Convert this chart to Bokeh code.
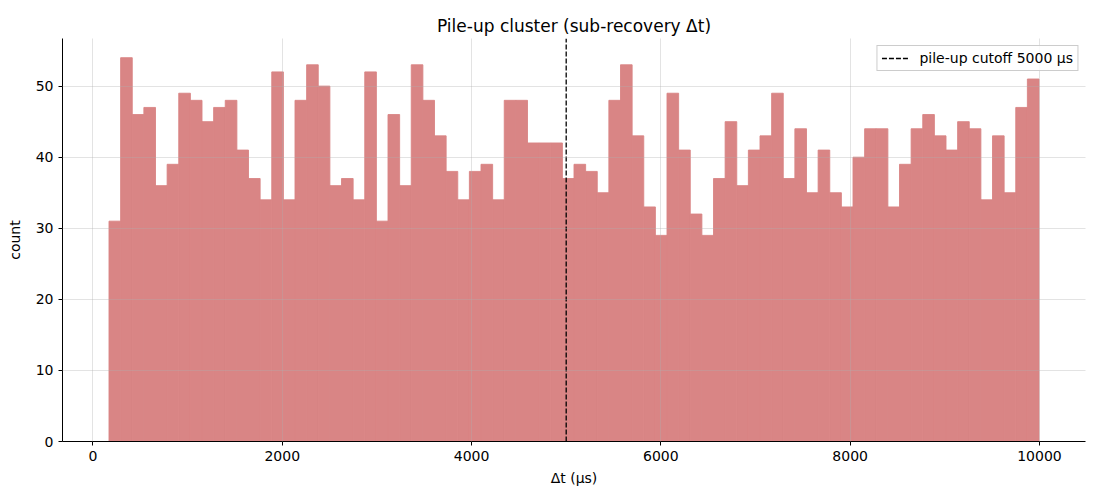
import numpy as np
from bokeh.plotting import figure
from bokeh.models import Range1d, FixedTicker, Legend, LegendItem, ColumnDataSource
from bokeh.embed import file_html
from bokeh.resources import INLINE

# Histogram data
counts = [31, 54, 46, 47, 36, 39, 49, 48, 45, 47,
          48, 41, 37, 34, 52, 34, 48, 53, 50, 36,
          37, 34, 52, 31, 46, 36, 53, 48, 43, 38,
          34, 38, 39, 34, 48, 48, 42, 42, 42, 37,
          39, 38, 35, 48, 53, 43, 33, 29, 49, 41,
          32, 29, 37, 45, 36, 41, 43, 49, 37, 44,
          35, 41, 35, 33, 40, 44, 44, 33, 39, 44,
          46, 43, 41, 45, 44, 34, 43, 35, 47, 51]
dt_min = 170.0
dt_max = 9995.0
cutoff = 5000
x_ticks = [0, 2000, 4000, 6000, 8000, 10000]
y_ticks = [0, 10, 20, 30, 40, 50]

edges = np.linspace(dt_min, dt_max, len(counts) + 1)
src = ColumnDataSource(dict(left=edges[:-1], right=edges[1:], top=counts,
                            bottom=[0] * len(counts)))

FONT = "DejaVu Sans"
span_x = dt_max - dt_min
y_top = max(counts) * 1.05
p = figure(width=1100, height=500, output_backend="svg", toolbar_location=None,
           x_range=Range1d(dt_min - 0.05 * span_x, dt_max + 0.05 * span_x),
           y_range=Range1d(0, y_top),
           title="Pile-up cluster (sub-recovery Δt)",
           min_border_left=62, min_border_right=15, min_border_top=38, min_border_bottom=59)

bar_color = "#D98585"
p.quad(left="left", right="right", top="top", bottom="bottom", source=src,
       fill_color=bar_color, fill_alpha=1.0, line_color=bar_color, line_width=0.9)

cut = p.line(x=[cutoff, cutoff], y=[0, y_top], line_color="black",
             line_dash="5 2", line_width=1.3)

legend = Legend(items=[LegendItem(label="pile-up cutoff %d μs" % cutoff, renderers=[cut])],
                location="top_right")
legend.label_text_font = FONT
legend.label_text_font_size = "14px"
legend.label_text_color = "black"
legend.glyph_width = 28
legend.glyph_height = 16
legend.border_line_color = "#cccccc"
legend.border_line_alpha = 1
legend.background_fill_alpha = 0.8
legend.padding = 4
legend.margin = 7
legend.spacing = 0
legend.label_standoff = 10
legend.label_height = 16
p.add_layout(legend)

p.title.align = "center"
p.title.text_font = FONT
p.title.text_font_size = "17px"
p.title.text_font_style = "normal"
p.title.text_color = "black"
p.title.standoff = 6

p.outline_line_color = None
for ax in (p.xaxis, p.yaxis):
    ax.axis_line_color = "black"
    ax.major_tick_line_color = "black"
    ax.major_tick_out = 4
    ax.major_tick_in = 0
    ax.minor_tick_line_color = None
    ax.major_label_text_font = FONT
    ax.major_label_text_font_size = "14px"
    ax.major_label_text_color = "black"
    ax.axis_label_text_font = FONT
    ax.axis_label_text_font_size = "14px"
    ax.axis_label_text_font_style = "normal"
    ax.axis_label_text_color = "black"

p.xaxis.ticker = FixedTicker(ticks=x_ticks)
p.yaxis.ticker = FixedTicker(ticks=y_ticks)
p.xaxis.axis_label = "Δt (μs)"
p.yaxis.axis_label = "count"
p.xaxis.axis_label_standoff = 6
p.yaxis.axis_label_standoff = 10

for g in (p.xgrid, p.ygrid):
    g.grid_line_color = "#b0b0b0"
    g.grid_line_alpha = 0.35
    g.level = "overlay"
p.xgrid.ticker = FixedTicker(ticks=x_ticks)
p.ygrid.ticker = FixedTicker(ticks=y_ticks)

open("out.html", "w").write(file_html(p, INLINE))
